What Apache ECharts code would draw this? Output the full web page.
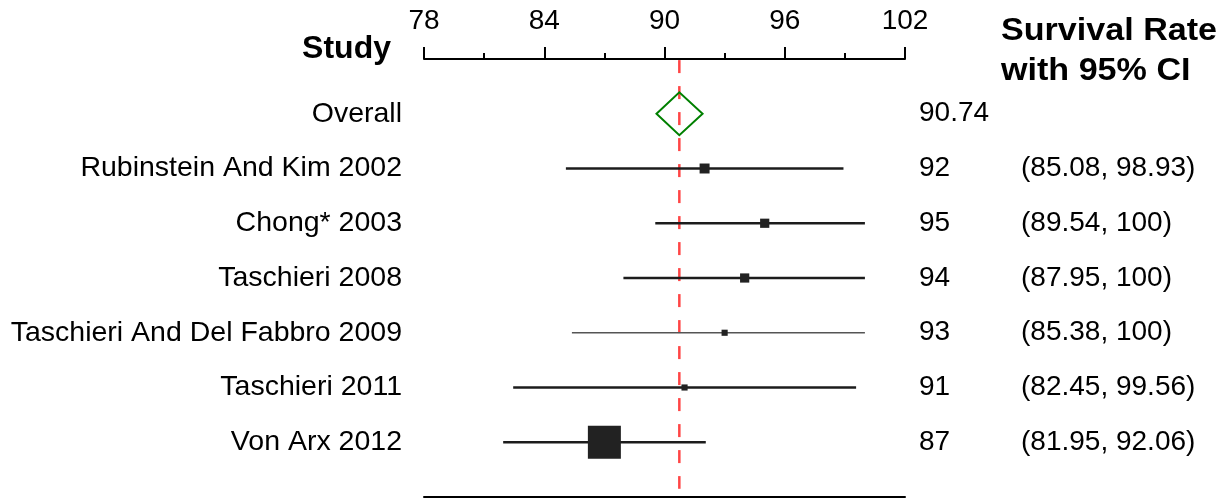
<!DOCTYPE html>
<html>
<head>
<meta charset="utf-8">
<script src="https://cdn.jsdelivr.net/npm/echarts@6/dist/echarts.min.js"></script>
<style>html,body{margin:0;padding:0;background:#fff;}#c{width:1231px;height:499px;}</style>
</head>
<body>
<div id="c"></div>
<script>
// ---- data ----
const studies = ["Rubinstein And Kim 2002", "Chong* 2003", "Taschieri 2008", "Taschieri And Del Fabbro 2009", "Taschieri 2011", "Von Arx 2012"];
const estimates = [92, 95, 94, 93, 91, 87];
const ciLower = [85.08, 89.54, 87.95, 85.38, 82.45, 81.95];
const ciUpper = [98.93, 100, 100, 100, 99.56, 92.06];
const weights = [13, 12, 12, 8, 8, 43];
const overallLabel = "Overall";
const overallEstimate = 90.74;
const overallLower = 89.6;
const overallUpper = 91.9;
const axisTicks = [78, 84, 90, 96, 102];

const FONT = "'Liberation Sans', Arial, sans-serif";
const chart = echarts.init(document.getElementById('c'));
const maxW = Math.max.apply(null, weights);

const rows = studies.map((s, i) => [estimates[i], i + 1, ciLower[i], ciUpper[i], weights[i]]);

function fmt(v) { return String(v); }

const option = {
  animation: false,
  backgroundColor: '#fff',
  grid: { left: 424, right: 326, top: 59, bottom: 2, containLabel: false },
  xAxis: [{
    type: 'value', position: 'top', min: axisTicks[0], max: axisTicks[axisTicks.length - 1], interval: 6,
    axisLine: { show: true, onZero: false, lineStyle: { color: '#000', width: 2 } },
    axisTick: { show: true, length: 12, lineStyle: { color: '#000', width: 2 } },
    minorTick: { show: true, splitNumber: 2, length: 6, lineStyle: { color: '#000', width: 2 } },
    axisLabel: { color: '#000', fontSize: 28, fontFamily: FONT, margin: 24 },
    splitLine: { show: false }
  }, {
    type: 'value', position: 'bottom', min: axisTicks[0], max: axisTicks[axisTicks.length - 1],
    axisLine: { show: true, onZero: false, lineStyle: { color: '#000', width: 2 } },
    axisTick: { show: false }, axisLabel: { show: false }, splitLine: { show: false }
  }],
  yAxis: { type: 'value', min: -1, max: 7, inverse: true, show: false },
  graphic: [
    { type: 'text', right: 1231 - 391, top: 33, style: { text: 'Study', font: 'bold 32px ' + FONT, fill: '#000' } },
    { type: 'text', x: 1001, y: 16, scaleX: 1.1, style: { text: 'Survival Rate', font: 'bold 31px ' + FONT, fill: '#000' } },
    { type: 'text', x: 1001, y: 56, scaleX: 1.1, style: { text: 'with 95% CI', font: 'bold 31px ' + FONT, fill: '#000' } }
  ],
  series: [
    {
      // reference dashed line at overall estimate
      type: 'custom', coordinateSystem: 'cartesian2d', clip: false,
      data: [[overallEstimate, -0.98, 6.85]],
      renderItem: function (params, api) {
        const p1 = api.coord([api.value(0), api.value(1)]);
        const p2 = api.coord([api.value(0), api.value(2)]);
        return { type: 'line', shape: { x1: p1[0], y1: p1[1], x2: p2[0], y2: p2[1] },
          style: { stroke: '#ff4545', lineWidth: 2.5, lineDash: [13, 13] } };
      },
      z: 1
    },
    {
      // overall diamond
      type: 'custom', coordinateSystem: 'cartesian2d', clip: false,
      data: [[overallEstimate, 0, overallLower, overallUpper]],
      renderItem: function (params, api) {
        const c = api.coord([api.value(0), api.value(1)]);
        const l = api.coord([api.value(2), api.value(1)]);
        const r = api.coord([api.value(3), api.value(1)]);
        const h = 21.5;
        const right = api.coord([axisTicks[axisTicks.length - 1], api.value(1)]);
        const left = api.coord([axisTicks[0], api.value(1)]);
        return { type: 'group', children: [
          { type: 'polygon', shape: { points: [[l[0], c[1]], [c[0], c[1] - h], [r[0], c[1]], [c[0], c[1] + h]] },
            style: { fill: 'rgba(255,255,255,0)', stroke: '#008000', lineWidth: 2 } },
          { type: 'text', x: left[0] - 22, y: c[1], style: { text: overallLabel, font: '28.5px ' + FONT, fill: '#000', align: 'right', verticalAlign: 'middle' } },
          { type: 'text', x: right[0] + 14, y: c[1], style: { text: fmt(api.value(0)), font: '28px ' + FONT, fill: '#000', align: 'left', verticalAlign: 'middle' } }
        ] };
      },
      z: 3
    },
    {
      // studies
      type: 'custom', coordinateSystem: 'cartesian2d', clip: false,
      data: rows,
      renderItem: function (params, api) {
        const i = params.dataIndex;
        const y = api.value(1);
        const c = api.coord([api.value(0), y]);
        const l = api.coord([api.value(2), y]);
        const r = api.coord([api.value(3), y]);
        const right = api.coord([axisTicks[axisTicks.length - 1], y]);
        const left = api.coord([axisTicks[0], y]);
        const s = Math.max(6, api.value(4) / maxW * 33);
        const thin = i === 3;
        return { type: 'group', children: [
          { type: 'line', shape: { x1: l[0], y1: c[1], x2: r[0], y2: c[1] },
            style: { stroke: thin ? '#555' : '#1c1c1c', lineWidth: thin ? 1.6 : 2.5 } },
          { type: 'rect', shape: { x: c[0] - s / 2, y: c[1] - s / 2, width: s, height: s },
            style: { fill: '#222' } },
          { type: 'text', x: left[0] - 22, y: c[1], style: { text: studies[i], font: '28.5px ' + FONT, fill: '#000', align: 'right', verticalAlign: 'middle' } },
          { type: 'text', x: right[0] + 14, y: c[1], style: { text: fmt(api.value(0)), font: '28px ' + FONT, fill: '#000', align: 'left', verticalAlign: 'middle' } },
          { type: 'text', x: right[0] + 116, y: c[1], style: { text: '(' + fmt(api.value(2)) + ', ' + fmt(api.value(3)) + ')', font: '28px ' + FONT, fill: '#000', align: 'left', verticalAlign: 'middle' } }
        ] };
      },
      z: 2
    }
  ]
};
chart.setOption(option);
</script>
</body>
</html>
